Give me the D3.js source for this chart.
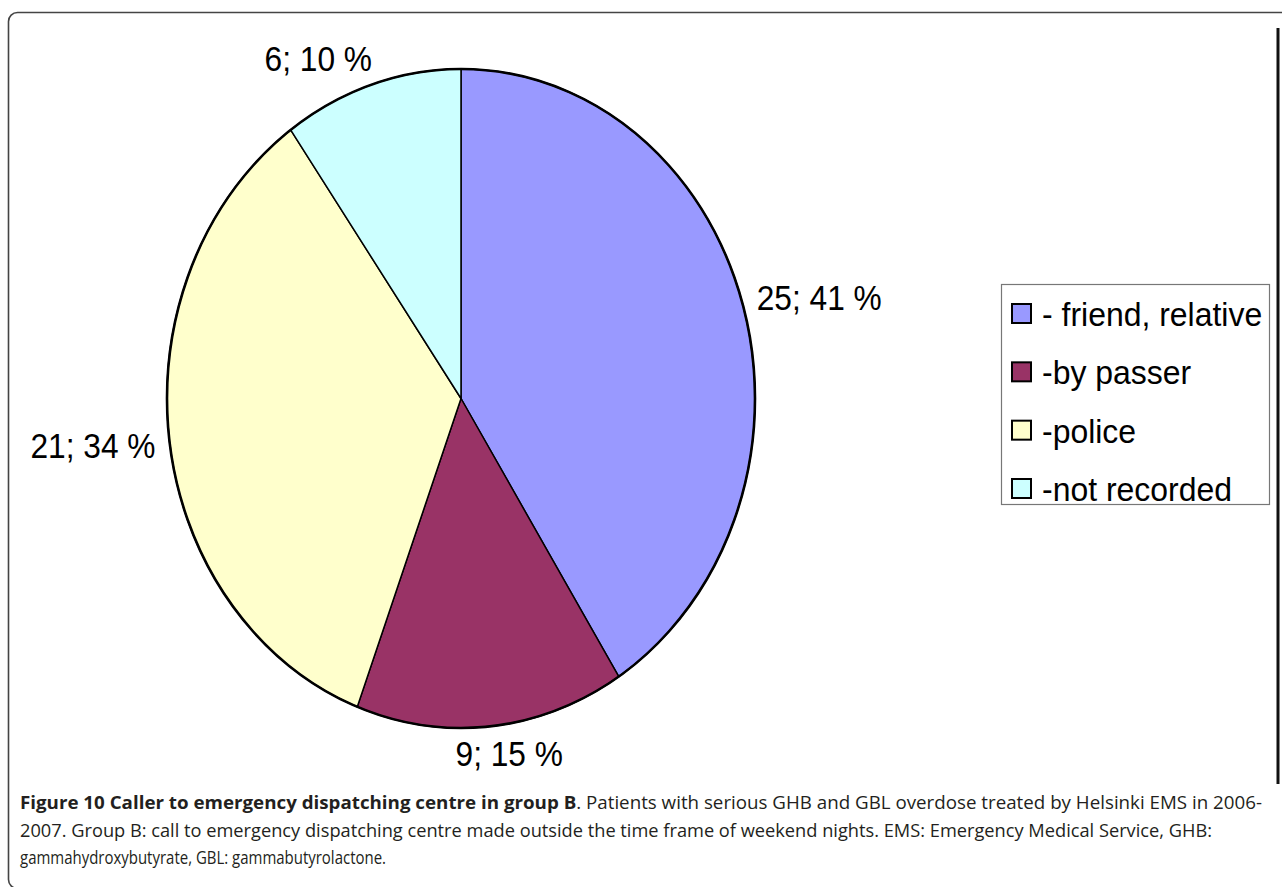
<!DOCTYPE html>
<html>
<head>
<meta charset="utf-8">
<script src="https://cdn.jsdelivr.net/npm/d3@7"></script>
<style>
  html, body { margin: 0; padding: 0; background: #fff; }
  svg { display: block; }
</style>
</head>
<body>
<svg id="chart" width="1282" height="887"></svg>
<script>
// ---- data ----
const categories = ["- friend, relative", "-by passer", "-police", "-not recorded"];
const counts = [25, 9, 21, 6];
const percents = [41, 15, 34, 10];
const colors = ["#9999FF", "#993366", "#FFFFCC", "#CCFFFF"];
const captionBold = "Figure 10 Caller to emergency dispatching centre in group B";
const captionLines = [
  ". Patients with serious GHB and GBL overdose treated by Helsinki EMS in 2006-",
  "2007. Group B: call to emergency dispatching centre made outside the time frame of weekend nights. EMS: Emergency Medical Service, GHB:",
  "gammahydroxybutyrate, GBL: gammabutyrolactone."
];

const svg = d3.select("#chart");

// outer frame (bottom/right edges run off the page)
svg.append("rect")
  .attr("x", 8.5).attr("y", 12.5)
  .attr("width", 1320).attr("height", 876)
  .attr("rx", 9).attr("ry", 9)
  .attr("fill", "none").attr("stroke", "#444").attr("stroke-width", 1.6);

// right vertical rule
svg.append("line")
  .attr("x1", 1278).attr("x2", 1278)
  .attr("y1", 28).attr("y2", 784)
  .attr("stroke", "#111").attr("stroke-width", 3);

// pie (elliptical)
const cx = 461, cy = 398.5, rx = 294, ry = 329.5;
const pie = d3.pie().sort(null).value(d => d)(counts);
const arc = d3.arc().innerRadius(0).outerRadius(ry);

const g = svg.append("g")
  .attr("transform", `translate(${cx},${cy}) scale(${rx / ry},1)`);

g.selectAll("path.slice")
  .data(pie)
  .join("path")
  .attr("class", "slice")
  .attr("d", arc)
  .attr("fill", (d, i) => colors[i])
  .attr("stroke", "#000")
  .attr("stroke-width", 1.5)
  .attr("stroke-linejoin", "round")
  .attr("vector-effect", "non-scaling-stroke");

g.append("ellipse")
  .attr("cx", 0).attr("cy", 0).attr("rx", ry).attr("ry", ry)
  .attr("fill", "none").attr("stroke", "#000").attr("stroke-width", 2.6)
  .attr("vector-effect", "non-scaling-stroke");

// labels (outside end)
const labelFont = "'Liberation Sans', Arial, sans-serif";
const labelSize = 36, labelScale = 0.88, gap = 14, kx = 3, ky = 1.5, capH = 26;
const clamp = v => Math.max(-1, Math.min(1, v));
pie.forEach((d, i) => {
  const a = (d.startAngle + d.endAngle) / 2;
  const s = Math.sin(a), c = Math.cos(a);
  const px = cx + rx * s, py = cy - ry * c;
  const t = svg.append("text")
    .attr("font-family", labelFont)
    .attr("font-size", labelSize)
    .attr("fill", "#000")
    .text(`${counts[i]}; ${percents[i]} %`);
  const w = t.node().getComputedTextLength() * labelScale;
  const ax = px + s * gap, ay = py - c * gap;
  const fx = 0.5 - 0.5 * clamp(s * kx);
  const fy = 0.5 + 0.5 * clamp(c * ky);
  const left = ax - fx * w;
  const top = ay - fy * capH;
  t.attr("transform", `translate(${left},${top + capH}) scale(${labelScale},1)`);
});

// legend
const lg = svg.append("g");
lg.append("rect")
  .attr("x", 1001.5).attr("y", 284.5)
  .attr("width", 268).attr("height", 220)
  .attr("fill", "#fff").attr("stroke", "#777").attr("stroke-width", 1.2);

const ly = d3.scalePoint().domain(categories).range([314, 489]);
categories.forEach((cat, i) => {
  const y = ly(cat);
  lg.append("rect")
    .attr("x", 1012).attr("y", y - 10)
    .attr("width", 19).attr("height", 19)
    .attr("fill", colors[i]).attr("stroke", "#000").attr("stroke-width", 2);
  lg.append("text")
    .attr("font-family", labelFont)
    .attr("font-size", 34)
    .attr("fill", "#000")
    .attr("transform", `translate(1042,${y + 12}) scale(0.94,1)`)
    .text(cat);
});

// caption
const capFont = "'Open Sans', 'Noto Sans', sans-serif";
const capSize = 18;
const l1 = svg.append("text")
  .attr("x", 20).attr("y", 809)
  .attr("font-family", capFont).attr("font-size", capSize).attr("fill", "#231f20")
  .attr("textLength", 1242).attr("lengthAdjust", "spacingAndGlyphs");
l1.append("tspan").attr("font-weight", "bold").text(captionBold);
l1.append("tspan").text(captionLines[0]);

svg.append("text")
  .attr("x", 20).attr("y", 837)
  .attr("font-family", capFont).attr("font-size", capSize).attr("fill", "#231f20")
  .attr("textLength", 1192).attr("lengthAdjust", "spacingAndGlyphs")
  .text(captionLines[1]);

svg.append("text")
  .attr("x", 20).attr("y", 864)
  .attr("font-family", capFont).attr("font-size", capSize).attr("fill", "#231f20")
  .attr("textLength", 366).attr("lengthAdjust", "spacingAndGlyphs")
  .text(captionLines[2]);
</script>
</body>
</html>
